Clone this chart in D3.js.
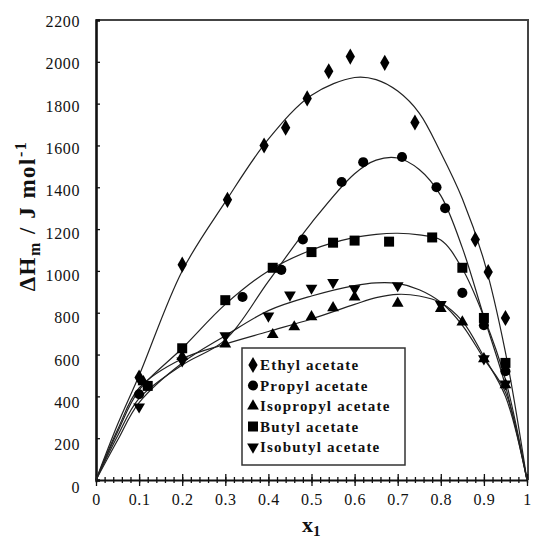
<!DOCTYPE html>
<html>
<head>
<meta charset="utf-8">
<script src="https://cdn.jsdelivr.net/npm/d3@7"></script>
<style>
  body { margin: 0; background: #fff; }
  svg { display: block; }
  text { font-family: "Liberation Serif", "Times New Roman", serif; fill: #111; }
</style>
</head>
<body>
<div id="chart"></div>
<script>
// series names (legend order)
const seriesNames = ['Ethyl acetate', 'Propyl acetate', 'Isopropyl acetate', 'Butyl acetate', 'Isobutyl acetate'];

const ethylX = [0.1, 0.2, 0.305, 0.39, 0.44, 0.49, 0.54, 0.59, 0.67, 0.74, 0.88, 0.91, 0.95];
const ethylY = [490, 1030, 1340, 1600, 1685, 1825, 1955, 2025, 1995, 1710, 1150, 995, 775];

const propylX = [0.1, 0.34, 0.43, 0.48, 0.57, 0.62, 0.71, 0.79, 0.81, 0.85, 0.9, 0.95];
const propylY = [410, 875, 1005, 1150, 1425, 1520, 1545, 1400, 1300, 895, 740, 520];

const isopropylX = [0.11, 0.2, 0.3, 0.41, 0.46, 0.5, 0.55, 0.6, 0.7, 0.8, 0.85, 0.9, 0.95];
const isopropylY = [470, 590, 650, 695, 732, 780, 823, 875, 845, 820, 755, 580, 455];

const butylX = [0.12, 0.2, 0.3, 0.41, 0.5, 0.55, 0.6, 0.68, 0.78, 0.85, 0.9, 0.95];
const butylY = [450, 630, 860, 1015, 1090, 1135, 1145, 1140, 1160, 1015, 775, 560];

const isobutylX = [0.1, 0.2, 0.3, 0.4, 0.45, 0.5, 0.55, 0.6, 0.7, 0.8, 0.9, 0.95];
const isobutylY = [350, 570, 690, 785, 885, 918, 945, 915, 930, 840, 580, 460];

// fitted curves
const fitX = [0, 0.05, 0.1, 0.2, 0.3, 0.4, 0.5, 0.6, 0.65, 0.7, 0.75, 0.8, 0.85, 0.9, 0.95, 1];
const ethylFit = [0, 265, 500, 1000, 1330, 1630, 1840, 1925, 1915, 1860, 1755, 1565, 1345, 1050, 610, 0];
const propylFit = [0, 210, 390, 550, 670, 950, 1230, 1465, 1530, 1540, 1485, 1360, 1110, 780, 450, 0];
const isopropylFit = [0, 240, 440, 580, 650, 710, 770, 840, 872, 888, 880, 848, 760, 590, 400, 0];
const butylFit = [0, 230, 430, 630, 840, 1000, 1100, 1160, 1175, 1180, 1172, 1148, 1010, 780, 480, 0];
const isobutylFit = [0, 190, 370, 560, 690, 810, 880, 930, 943, 940, 910, 850, 740, 580, 420, 0];

// axis ticks
const xMajor = [0, 0.1, 0.2, 0.3, 0.4, 0.5, 0.6, 0.7, 0.8, 0.9, 1];
const xLabels = ['0', '0.1', '0.2', '0.3', '0.4', '0.5', '0.6', '0.7', '0.8', '0.9', '1'];
const xMinor = d3.range(0, 1.001, 0.02);
const yTicks = [0, 200, 400, 600, 800, 1000, 1200, 1400, 1600, 1800, 2000, 2200];

const x = d3.scaleLinear().domain([0, 1]).range([96, 527]);
const y = d3.scaleLinear().domain([0, 2200]).range([480, 20]);
// tick labels sit a little lower toward the bottom of the axis
const yLab = d3.scaleLinear().domain([0, 2200]).range([487, 21.5]);

const svg = d3.select('#chart').append('svg')
    .attr('width', 539)
    .attr('height', 539);

// frame (top & right)
svg.append('path')
    .attr('d', 'M' + x(0) + ',' + y(2200) + 'H' + (x(1) + 1) + 'V' + y(0))
    .attr('fill', 'none')
    .attr('stroke', '#444')
    .attr('stroke-width', 2);

// x axis ticks, crossing the axis line
function xTicks(values, size) {
  [size, -size].forEach(function(s) {
    svg.append('g')
        .attr('transform', 'translate(0,' + y(0) + ')')
        .call(d3.axisBottom(x).tickValues(values).tickSize(s).tickFormat(''))
        .call(g => g.select('.domain').remove())
        .selectAll('line').attr('stroke', '#111').attr('stroke-width', 1.3);
  });
}
xTicks(xMinor, 3);
xTicks(xMajor, 6);

let xAxis = svg.append('g')
    .attr('transform', 'translate(0,' + y(0) + ')')
    .call(d3.axisBottom(x).tickValues(xMajor).tickSize(0).tickPadding(14)
        .tickFormat((d, i) => xLabels[i]));
xAxis.select('.domain').attr('stroke', '#111').attr('stroke-width', 2.2);
xAxis.selectAll('text')
    .attr('font-size', 16)
    .attr('letter-spacing', 0.6)
    .attr('font-family', '"Liberation Serif", serif');

// y axis
let yAxis = svg.append('g')
    .attr('transform', 'translate(' + x(0) + ',0)')
    .call(d3.axisLeft(y).tickValues(yTicks).tickSize(-4).tickFormat(''));
yAxis.select('.domain').attr('stroke', '#111').attr('stroke-width', 2.6);
yAxis.selectAll('line').attr('stroke', '#111').attr('stroke-width', 1.3);

let yLabels = svg.append('g')
    .attr('transform', 'translate(' + x(0) + ',0)')
    .call(d3.axisLeft(yLab).tickValues(yTicks).tickSize(0).tickPadding(16)
        .tickFormat(d3.format('d')));
yLabels.select('.domain').remove();
yLabels.selectAll('text')
    .attr('font-size', 16)
    .attr('letter-spacing', 0.6)
    .attr('font-family', '"Liberation Serif", serif');

// axis titles
let yTitle = svg.append('text')
    .attr('transform', 'translate(35,216) rotate(-90)')
    .attr('text-anchor', 'middle')
    .attr('font-size', 23)
    .attr('font-weight', 'bold')
    .attr('letter-spacing', 1.5);
yTitle.append('tspan').text('\u0394H');
yTitle.append('tspan').attr('font-size', 16).attr('dy', 5).text('m');
yTitle.append('tspan').attr('dy', -5).text(' / J mol');
yTitle.append('tspan').attr('font-size', 16).attr('dy', -9).text('-1');

let xTitle = svg.append('text')
    .attr('x', 302)
    .attr('y', 532)
    .attr('font-size', 22)
    .attr('font-weight', 'bold');
xTitle.append('tspan').text('x');
xTitle.append('tspan').attr('font-size', 15).attr('dy', 4).text('1');

// series
const series = [
  {name: seriesNames[0], xs: ethylX, ys: ethylY, fit: ethylFit, type: d3.symbolDiamond, size: 75, rot: 0},
  {name: seriesNames[1], xs: propylX, ys: propylY, fit: propylFit, type: d3.symbolCircle, size: 80, rot: 0},
  {name: seriesNames[2], xs: isopropylX, ys: isopropylY, fit: isopropylFit, type: d3.symbolTriangle, size: 60, rot: 0},
  {name: seriesNames[3], xs: butylX, ys: butylY, fit: butylFit, type: d3.symbolSquare, size: 100, rot: 0},
  {name: seriesNames[4], xs: isobutylX, ys: isobutylY, fit: isobutylFit, type: d3.symbolTriangle, size: 60, rot: 180}
];

let line = d3.line()
    .x(d => x(d[0]))
    .y(d => y(d[1]))
    .curve(d3.curveCatmullRom.alpha(0.5));

series.forEach(function(s) {
  svg.append('path')
      .datum(fitX.map((v, i) => [v, s.fit[i]]))
      .attr('d', line)
      .attr('fill', 'none')
      .attr('stroke', '#222')
      .attr('stroke-width', 1.2);
});

series.forEach(function(s) {
  let sym = d3.symbol().type(s.type).size(s.size);
  svg.append('g').selectAll('path')
      .data(s.xs.map((v, i) => [v, s.ys[i]]))
      .enter().append('path')
      .attr('d', sym)
      .attr('fill', '#000')
      .attr('transform', d => 'translate(' + x(d[0]) + ',' + y(d[1]) + ') rotate(' + s.rot + ')');
});

// legend
let legend = svg.append('g');
legend.append('rect')
    .attr('x', 242).attr('y', 348)
    .attr('width', 163).attr('height', 117)
    .attr('fill', '#fff')
    .attr('stroke', '#333')
    .attr('stroke-width', 1.5);

let ly = d3.scalePoint().domain(seriesNames).range([365, 447]);
series.forEach(function(s) {
  let sym = d3.symbol().type(s.type).size(s.size);
  legend.append('path')
      .attr('d', sym)
      .attr('fill', '#000')
      .attr('transform', 'translate(253,' + ly(s.name) + ') rotate(' + s.rot + ')');
  legend.append('text')
      .attr('x', 260)
      .attr('y', ly(s.name) + 5)
      .attr('font-size', 15)
      .attr('font-weight', 'bold')
      .attr('letter-spacing', 1.2)
      .text(s.name);
});
</script>
</body>
</html>
